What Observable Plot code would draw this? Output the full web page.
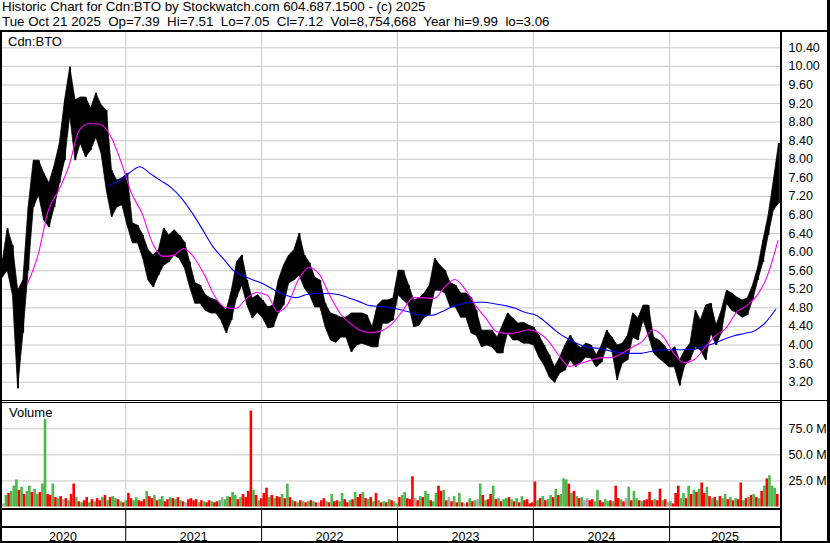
<!DOCTYPE html>
<html><head><meta charset="utf-8">
<script src="https://cdn.jsdelivr.net/npm/d3@7"></script>
<script src="https://cdn.jsdelivr.net/npm/@observablehq/plot@0.6"></script>
<style>
html,body{margin:0;padding:0;background:#fff;}
#chart{position:relative;width:830px;height:543px;background:#fff;font-family:"Liberation Sans",Arial,sans-serif;color:#000;overflow:hidden;}
.txt{position:absolute;white-space:pre;line-height:15px;color:#000;}
.ln{position:absolute;background:#000;}
svg{display:block;}
</style></head><body><div id="chart"></div>
<script>
// ---------- DATA ----------
const title1 = "Historic Chart for Cdn:BTO by Stockwatch.com 604.687.1500 - (c) 2025";
const title2 = "Tue Oct 21 2025  Op=7.39  Hi=7.51  Lo=7.05  Cl=7.12  Vol=8,754,668  Year hi=9.99  lo=3.06";
const symbol = "Cdn:BTO";
const volumeLabel = "Volume";

// price samples every 14 days starting 2020-02-05 (high / low)
const priceStart = "2020-02-05";
const priceStepDays = 14;
const hi = [
5.76,6.51,6.14,5.17,5.39,6.96,7.97,7.97,7.69,7.48,
7.86,8.34,9.27,9.98,9.27,9.33,9.33,9.09,9.42,9.16,
9.05,7.76,7.54,7.59,7.69,6.62,6.57,6.36,6.04,5.93,
6.04,6.51,6.36,6.47,6.36,6.21,5.78,5.33,5.28,5.07,
5.00,4.96,4.85,4.74,5.17,5.78,5.93,5.39,5.00,5.07,
4.96,4.81,4.85,5.39,5.71,5.93,6.04,6.40,5.93,5.76,
5.45,5.39,4.89,4.68,4.64,4.59,4.59,4.68,4.68,4.68,
4.64,4.38,4.85,4.96,4.96,5.00,5.60,5.60,5.28,4.96,
5.00,5.11,5.28,5.86,5.71,5.60,5.33,5.28,5.11,5.11,
5.02,4.74,4.31,4.31,4.31,4.16,4.42,4.68,4.57,4.46,
4.48,4.42,4.38,4.20,3.99,3.78,3.52,3.73,3.99,4.20,
4.03,3.93,4.03,3.99,3.78,3.99,4.31,4.16,3.99,4.03,
4.20,4.68,4.57,4.85,4.85,4.16,4.10,3.99,3.84,3.95,
3.67,3.88,4.03,4.74,4.53,4.85,4.89,4.42,4.74,5.17,
5.11,5.02,4.96,5.00,5.28,5.67,6.25,6.79,7.54,8.34];
const lo = [
5.45,5.60,5.07,3.06,4.25,5.60,6.96,7.22,6.68,6.53,
6.96,7.48,7.97,8.94,7.97,8.34,8.04,8.19,8.47,8.12,
7.33,6.75,6.96,7.01,6.57,6.19,6.19,5.86,5.39,5.24,
5.50,5.71,5.78,5.93,5.86,5.65,5.24,4.89,4.89,4.74,
4.68,4.68,4.53,4.25,4.53,5.02,5.28,4.85,4.57,4.70,
4.57,4.36,4.38,4.68,4.85,5.33,5.39,5.50,5.22,5.07,
4.81,4.81,4.38,4.10,4.05,4.16,4.16,3.84,3.99,4.03,
3.99,3.95,3.95,4.46,4.46,4.53,5.07,4.96,4.85,4.38,
4.42,4.59,4.64,5.17,5.17,5.11,4.81,4.81,4.59,4.59,
4.25,4.20,3.95,3.99,3.95,3.82,3.82,4.25,4.10,4.10,
4.03,4.03,3.99,3.73,3.56,3.30,3.19,3.39,3.45,3.67,
3.52,3.62,3.73,3.71,3.52,3.62,3.95,3.88,3.24,3.60,
3.67,4.16,4.10,4.53,4.20,3.82,3.71,3.62,3.52,3.52,
3.12,3.56,3.67,3.95,3.88,3.67,4.25,3.99,4.25,4.89,
4.74,4.68,4.59,4.64,4.96,5.39,5.78,6.36,6.90,7.05];

// moving averages, read every 28 days
const maStepDays = 28;
const maShortStart = "2020-04-12";
const maShort = [
5.32,5.93,6.90,7.33,7.87,8.64,8.77,8.75,8.49,7.93,
7.26,6.83,6.19,5.91,5.93,6.08,5.88,5.50,5.04,4.81,
4.79,5.00,5.13,5.07,4.72,4.89,5.41,5.67,5.52,5.07,
4.68,4.46,4.31,4.27,4.31,4.46,4.74,5.02,5.02,5.00,
5.24,5.41,5.20,4.85,4.57,4.29,4.25,4.27,4.33,4.27,
4.08,3.77,3.54,3.60,3.67,3.73,3.73,3.82,3.95,4.08,
4.33,4.18,3.82,3.62,3.69,3.95,4.20,4.36,4.70,4.85,
5.07,5.50,6.25];
const maLongStart = "2020-11-16";
const maLong = [
7.43,7.54,7.71,7.84,7.69,7.54,7.39,7.16,6.85,6.49,
6.12,5.86,5.60,5.48,5.39,5.30,5.17,5.07,5.02,5.09,
5.11,5.11,5.09,5.02,4.94,4.85,4.83,4.81,4.76,4.70,
4.64,4.64,4.72,4.83,4.89,4.92,4.92,4.89,4.85,4.79,
4.70,4.64,4.48,4.29,4.14,4.03,3.95,3.93,3.88,3.84,
3.82,3.82,3.86,3.90,3.90,3.90,3.90,3.97,4.03,4.12,
4.20,4.25,4.31,4.48,4.77];

// weekly volume (millions) and direction: g = up, r = down, n = unchanged
const volStart = "2020-02-05";
const volStepDays = 7;
const vol = [
3,11,13,15,20,26,16,19,12,15, 20,14,17,12,14,22,84,12,11,22,
9,8,10,7,8,6,12,22,9,5, 4,6,9,4,7,5,8,6,9,11,
6,9,10,8,7,5,4,6,13,8, 6,9,6,5,7,15,10,8,11,6,
7,10,5,7,9,8,7,9,6,5, 4,7,8,6,7,4,6,5,4,6,
5,4,5,6,9,7,10,9,14,11, 7,9,12,9,15,92,16,11,6,8,
13,18,9,11,8,10,9,12,8,22, 9,6,5,4,6,5,4,5,6,5,
4,4,6,8,5,4,12,5,6,5, 13,7,4,6,7,14,9,12,14,8,
7,9,5,13,6,4,5,4,7,6,
5,3,9,11,14,8,7,29,8,6, 10,9,15,12,6,5,13,20,15,16,
6,9,5,10,4,13,4,3,4,8, 5,6,7,22,11,6,7,12,20,7,
8,5,7,8,9,7,5,8,4,10, 6,7,3,4,24,6,8,10,6,7,
11,9,17,11,12,27,26,22,13,15, 10,8,9,6,8,6,7,5,16,6,
4,7,5,6,5,20,8,7,5,8, 19,6,15,8,6,5,6,7,14,6,
7,6,17,6,7,4,5,3,13,20, 8,13,8,20,12,16,14,17,23,13,
19,10,8,9,6,10,8,12,7,9, 6,8,7,23,6,8,9,11,12,9,
8,15,20,27,30,20,18,12];
const volDir = (
"ngrgggrgrg"+"grggrggrrg"+"rgrnrgrrgr"+"grrgrgrrgr"+"grggrgrgrr"+
"ggrrrgrrgr"+"ggrrgrgrgr"+"nrrrrgrgrr"+"grrgnggrgg"+"rgrrrrgrgr"+
"rrgrgrrgrg"+"rgrgrgrgrg"+"rnrrgrgrrg"+"grrgrgrrgr"+"grgrgrgrgr"+
"ggrggrrrnr"+"grggrggrrg"+"rnrgrgrnrg"+"rgngrgrrgr"+"grggrgrgrg"+
"rrrrrgrgrg"+"grgrgggrgr"+"grgnnrrggr"+"rggrgrrgrn"+"grggrgrrrr"+
"grrgrngrrr"+"ggrgrgrgrr"+"grgrgrggrg"+"rgrrgrgrgr"+"grgrgggr").split("");

const priceTicks = [3.2,3.6,4.0,4.4,4.8,5.2,5.6,6.0,6.4,6.8,7.2,7.6,8.0,8.4,8.8,9.2,9.6,10.0,10.4];
const volTicks = [25,50,75];
const years = [2020,2021,2022,2023,2024,2025];

// ---------- BUILD ----------
const DAY = 864e5;
const D = s => new Date(s + "T00:00:00Z");
const t0 = D(priceStart).getTime();
const priceData = hi.map((h,i) => ({date: new Date(t0 + i*priceStepDays*DAY), hi: h, lo: lo[i]}));
const msT = D(maShortStart).getTime(), mlT = D(maLongStart).getTime();
const maShortData = maShort.map((v,j) => ({date: new Date(msT + j*maStepDays*DAY), v}));
const maLongData = maLong.map((v,j) => ({date: new Date(mlT + j*maStepDays*DAY), v}));
const vT = D(volStart).getTime();
const volColors = {g: "#4cb84c", r: "#ff0000", n: "#a8a8a8"};
const volData = vol.map((v,k) => ({x1: new Date(vT + k*volStepDays*DAY), x2: new Date(vT + (k+1)*volStepDays*DAY), v, c: volColors[volDir[k]]}));
const yearStarts = years.slice(1).map(y => new Date(Date.UTC(y,0,1)));
const visStart = D("2020-01-30"), visEnd = D("2025-10-26");
const yearLabels = years.map(y => {
  const a = Math.max(Date.UTC(y,0,1), visStart.getTime());
  const b = Math.min(Date.UTC(y+1,0,1), visEnd.getTime());
  return {date: new Date((a+b)/2), label: String(y)};
});

const xOpts = {type: "utc", domain: [D("2020-01-01"), D("2026-01-01")], range: [-11, 805], axis: null};
const baseStyle = {fontFamily: "'Liberation Sans', Arial, sans-serif", fontSize: "12.5px", color: "#000", background: "transparent", overflow: "visible"};
const GRID = "#c8c8c8";

const chart = document.getElementById("chart");
function place(node, left, top) { node.style.position = "absolute"; node.style.left = left + "px"; node.style.top = top + "px"; chart.appendChild(node); }
function line(l,t,w,h){ const d=document.createElement("div"); d.className="ln"; d.style.left=l+"px"; d.style.top=t+"px"; d.style.width=w+"px"; d.style.height=h+"px"; chart.appendChild(d); }
function text(s,l,t,fs){ const d=document.createElement("div"); d.className="txt"; d.textContent=s; d.style.left=l+"px"; d.style.top=t+"px"; d.style.fontSize=fs+"px"; chart.appendChild(d); }

const pricePlot = Plot.plot({
  width: 830, height: 368, marginLeft: 2, marginRight: 50, marginTop: 0, marginBottom: 0,
  style: baseStyle,
  x: xOpts,
  y: {domain: [3.2, 10.4], range: [349.7, 15.3]},
  marks: [
    Plot.ruleY(priceTicks, {stroke: GRID, strokeWidth: 1}),
    Plot.ruleX(yearStarts, {stroke: GRID, strokeWidth: 1}),
    Plot.areaY(priceData, {x: "date", y1: "lo", y2: "hi", fill: "#000", stroke: "#000", strokeWidth: 0.8, curve: "linear"}),
    Plot.ruleX(priceData, {x: "date", y1: "lo", y2: "hi", stroke: "#000", strokeWidth: 1.5}),
    Plot.line(maLongData, {x: "date", y: "v", stroke: "#0000ff", strokeWidth: 1.1, curve: "monotone-x"}),
    Plot.line(maShortData, {x: "date", y: "v", stroke: "#ff00ff", strokeWidth: 1.1, curve: "monotone-x"}),
    Plot.axisY({ticks: priceTicks, anchor: "right", tickSize: 0, tickPadding: 8, tickFormat: d => d.toFixed(2), label: null, fill: "#000"})
  ]
});
place(pricePlot, 0, 32);

const volPlot = Plot.plot({
  width: 830, height: 105, marginLeft: 2, marginRight: 50, marginTop: 0, marginBottom: 0,
  style: baseStyle,
  x: xOpts,
  y: {domain: [0, 75], range: [103.5, 25.3]},
  color: {type: "identity"},
  marks: [
    Plot.ruleY(volTicks, {stroke: GRID, strokeWidth: 1}),
    Plot.ruleX(yearStarts, {stroke: GRID, strokeWidth: 1}),
    Plot.rectY(volData, {x1: "x1", x2: "x2", y1: 0, y2: "v", fill: "c"}),
    Plot.axisY({ticks: volTicks, anchor: "right", tickSize: 0, tickPadding: 8, tickFormat: d => d.toFixed(1) + " M", label: null, fill: "#000"})
  ]
});
place(volPlot, 0, 403);

const yearPlot = Plot.plot({
  width: 830, height: 31, marginLeft: 2, marginRight: 50, marginTop: 0, marginBottom: 0,
  style: baseStyle,
  x: xOpts,
  marks: [
    Plot.ruleX(yearStarts, {stroke: "#000", strokeWidth: 1}),
    Plot.text(yearLabels, {x: "date", text: "label", frameAnchor: "bottom", lineAnchor: "bottom", dy: -1, fill: "#000", fontSize: 12.5})
  ]
});
place(yearPlot, 0, 510);

// frame lines
line(0, 30, 830, 2);      // header separator
line(0, 31, 2, 512);      // left border
line(780, 31, 2, 512);    // right axis line
line(827, 0, 3, 543);     // right border
line(0, 400, 828, 1);     // price panel bottom
line(0, 402, 781, 1);
line(0, 508, 781, 2);     // volume baseline
line(0, 526, 781, 2);     // year strip divider
line(0, 541, 830, 2);     // bottom border

text(title1, 2, -1, 13.33);
text(title2, 2, 14, 13.33);
text(symbol, 8, 34, 13);
text(volumeLabel, 9, 405, 13);
</script></body></html>
